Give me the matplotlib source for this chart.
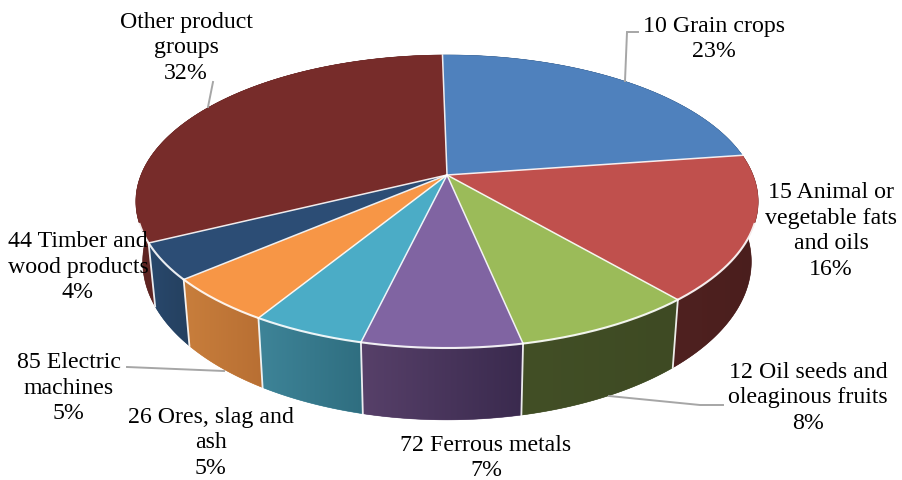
import numpy as np
import matplotlib
matplotlib.use("Agg")
import matplotlib.pyplot as plt
from matplotlib.colors import to_rgb
from matplotlib.patches import Polygon

# Cargo shares by commodity group, percent
categories = ["10 Grain crops", "15 Animal or\nvegetable fats\nand oils",
              "12 Oil seeds and\noleaginous fruits", "72 Ferrous metals",
              "26 Ores, slag and\nash", "85 Electric\nmachines",
              "44 Timber and\nwood products", "Other product\ngroups"]
shares = [23, 16, 8, 7, 5, 5, 4, 32]
top_colors = ["#4F81BD", "#C0504D", "#9BBB59", "#8064A2",
              "#4BACC6", "#F79646", "#2C4D75", "#772C2A"]
wall_right = ["#2A4A6E", "#4A1E1D", "#3E4A23", "#3A2A4E",
              "#2F6E80", "#B86F33", "#25405F", "#5E2422"]
wall_left = ["#2A4A6E", "#4F2120", "#424F26", "#574069",
             "#3E8498", "#C87E3C", "#28486C", "#5E2422"]
label_centers = [(714, 39), (831, 231), (808, 398), (486, 458),
                 (211, 443), (69, 388), (78, 267), (186, 48)]

# Projection of the disc onto the page: the near side of the pie looms larger
CX, CY = 447.0, 175.0
SCALE_X, SCALE_Y, TILT = 306.0, 141.7, 0.181
START_ANGLE = 91.0


def project_top(theta):
    u, v = np.cos(theta), np.sin(theta)
    d = 1 + TILT * v
    return CX + SCALE_X * u / d, CY - SCALE_Y * v / d


def project_bottom(theta):
    x, y = project_top(theta)
    return CX + 0.978 * (x - CX), y + 58 + 0.08 * (y - CY)


fig = plt.figure(figsize=(9.03, 4.8), dpi=100, facecolor="white")
ax = fig.add_axes([0, 0, 1, 1])

bounds = START_ANGLE - 3.6 * np.concatenate([[0], np.cumsum(shares)])
edges = np.radians(bounds)

# Side walls, far slices first, each a left-to-right gradient clipped to its outline
mid_depth = [np.sin((edges[i] + edges[i + 1]) / 2) for i in range(len(shares))]
for i in np.argsort(mid_depth)[::-1]:
    ts = np.linspace(edges[i], edges[i + 1], 200)
    xt, yt = project_top(ts)
    xb, yb = project_bottom(ts)
    outline = np.column_stack([np.r_[xt, xb[::-1]], np.r_[yt, yb[::-1]]])
    patch = Polygon(outline, closed=True, facecolor=wall_left[i],
                    edgecolor=wall_left[i], lw=0.4, zorder=2)
    ax.add_patch(patch)
    left, right = np.array(to_rgb(wall_left[i])), np.array(to_rgb(wall_right[i]))
    f = np.linspace(0, 1, 128)[:, None]
    ramp = (left * (1 - f) + right * f)[None, :, :]
    img = ax.imshow(ramp, extent=(outline[:, 0].min(), outline[:, 0].max(), 480, 0),
                    aspect="auto", interpolation="bilinear", zorder=2)
    img.set_clip_path(patch)

# Top faces
for i in range(len(shares)):
    ts = np.linspace(edges[i], edges[i + 1], 160)
    xs, ys = project_top(ts)
    ax.fill(np.r_[CX, xs], np.r_[CY, ys], color=top_colors[i], lw=0.3, zorder=3)

# White seams: along the spokes, the front rim and the visible wall joints
for e in edges[:-1]:
    x, y = project_top(e)
    ax.plot([CX, x], [CY, y], color="white", lw=1.1, zorder=4, alpha=0.9)
    if np.sin(e) < 0:
        xb, yb = project_bottom(e)
        ax.plot([x, xb], [y, yb], color="white", lw=1.3, zorder=4, alpha=0.9)
rim = np.radians(np.linspace(-19, -161, 300))
ax.plot(*project_top(rim), color="white", lw=1.5, zorder=4, alpha=0.9)

# Leader lines
leaders = [[(625, 81), (627, 32), (638, 32)],
           [(208, 107), (213, 82)],
           [(609, 396), (700, 405), (723, 405)],
           [(127, 367), (224, 371)]]
for path in leaders:
    lx, ly = zip(*path)
    ax.plot(lx, ly, color="#A6A6A6", lw=1.4, zorder=5, solid_joinstyle="miter")

# Data labels
for name, share, (tx, ty) in zip(categories, shares, label_centers):
    ax.text(tx, ty, f"{name}\n{share}%", ha="center", va="center",
            multialignment="center", family="Liberation Serif", fontsize=17.2,
            color="black", linespacing=1.29, zorder=6)

ax.set_xlim(0, 903)
ax.set_ylim(480, 0)
ax.axis("off")
fig.savefig("out.png", dpi=100, facecolor="white")
